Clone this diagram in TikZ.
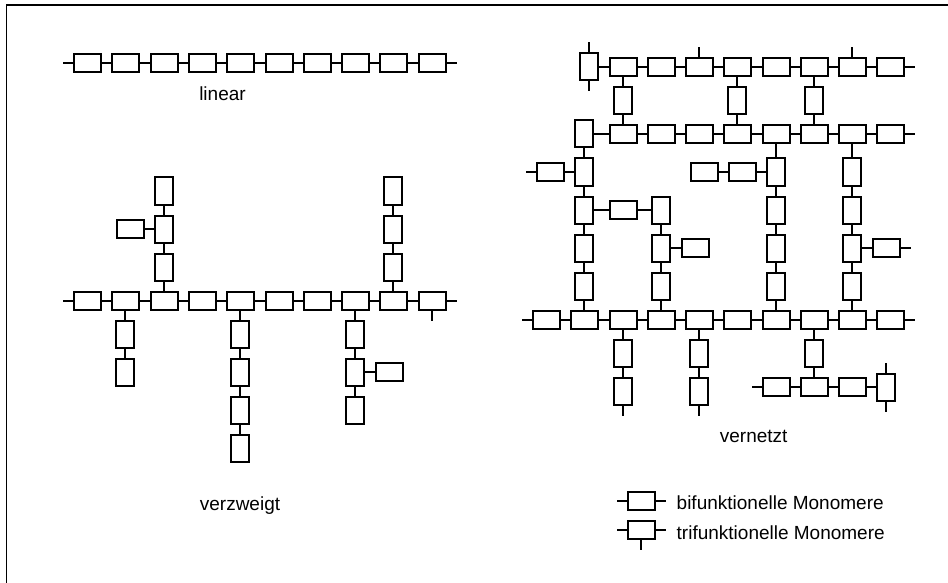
\documentclass[tikz,border=0pt]{standalone}
\usepackage{fontspec}
\setmainfont{Liberation Sans}
\tikzset{
    mono/.style={draw, line width=2pt, minimum width=27pt, minimum height=18pt, inner sep=0pt},
    monov/.style={mono, minimum width=18pt, minimum height=27pt},
    bond/.style={line width=2pt},
    lbl/.style={anchor=base, inner sep=0pt, font=\fontsize{19}{23}\selectfont}
}
\begin{document}
\begin{tikzpicture}[x=1pt, y=-1pt]
    \useasboundingbox (0, 0) rectangle (948, 583);
    \draw[line width=1.5pt] (6.5, 583) -- (6.5, 5) -- (948, 5);

    % linear
    \foreach \i in {0,...,9} \node[mono] (l\i) at ({round(87.2 + 38.27*\i)}, 63) {};
    \foreach \i [count=\j from 0] in {1,...,9} \draw[bond] (l\j) -- (l\i);
    \draw[bond] (l0.west) -- ++(-10, 0);
    \draw[bond] (l9.east) -- ++(10, 0);
    \node[lbl] (tlin) at (222.5, 100.7) {linear};

    % verzweigt
    \foreach \i in {0,...,9} \node[mono] (v\i) at ({round(87.2 + 38.27*\i)}, 301) {};
    \foreach \i [count=\j from 0] in {1,...,9} \draw[bond] (v\j) -- (v\i);
    \draw[bond] (v0.west) -- ++(-10, 0);
    \draw[bond] (v9.east) -- ++(10, 0);
    \draw[bond] (v9.south) -- ++(0, 10);
    \path (v1) ++(0, 33) node[monov] (d1a) {} ++(0, 38) node[monov] (d1b) {};
    \path (v2) ++(0, -34) node[monov] (u2a) {} ++(0, -38) node[monov] (u2b) {} ++(0, -38) node[monov] (u2c) {};
    \path (u2b) ++(-34, 0) node[mono] (s2) {};
    \path (v4) ++(0, 33) node[monov] (d4a) {} ++(0, 38) node[monov] (d4b) {} ++(0, 38) node[monov] (d4c) {} ++(0, 38) node[monov] (d4d) {};
    \path (v7) ++(0, 33) node[monov] (d7a) {} ++(0, 38) node[monov] (d7b) {} ++(0, 38) node[monov] (d7c) {};
    \path (d7b) ++(34, 0) node[mono] (s7) {};
    \path (v8) ++(0, -34) node[monov] (u8a) {} ++(0, -38) node[monov] (u8b) {} ++(0, -38) node[monov] (u8c) {};
    \draw[bond] (v1) -- (d1a) -- (d1b);
    \draw[bond] (v2) -- (u2a) -- (u2b) -- (u2c);
    \draw[bond] (u2b) -- (s2);
    \draw[bond] (v4) -- (d4a) -- (d4b) -- (d4c) -- (d4d);
    \draw[bond] (v7) -- (d7a) -- (d7b) -- (d7c);
    \draw[bond] (d7b) -- (s7);
    \draw[bond] (v8) -- (u8a) -- (u8b) -- (u8c);
    \node[lbl] (tver) at (240, 510) {verzweigt};

    % vernetzt
    \foreach \k in {2,...,9} \node[mono] (a\k) at ({round(546 + 38.27*\k)}, 67) {};
    \path (a2) ++(-34, 0) node[monov] (a1) {};
    \foreach \i [count=\j from 1] in {2,...,9} \draw[bond] (a\j) -- (a\i);
    \draw[bond] (a1.north) -- ++(0, -10);
    \draw[bond] (a1.south) -- ++(0, 10);
    \draw[bond] (a4.north) -- ++(0, -10);
    \draw[bond] (a8.north) -- ++(0, -10);
    \draw[bond] (a9.east) -- ++(10, 0);

    \foreach \k in {2,...,9} \node[mono] (b\k) at ({round(546 + 38.27*\k)}, 134) {};
    \node[monov] (b1) at (584, 134) {};
    \foreach \i [count=\j from 1] in {2,...,9} \draw[bond] (b\j) -- (b\i);
    \draw[bond] (b9.east) -- ++(10, 0);
    \foreach \k in {2,5,7} {
        \path (a\k) ++(0, 34) node[monov] (ab\k) {};
        \draw[bond] (a\k) -- (ab\k) -- (b\k);
    }

    \foreach \k in {1,6,8} \foreach \r in {1,...,4} \node[monov] (m\k-\r) at ({round(546 + 38.27*\k)}, 134 + 38*\r) {};
    \foreach \r in {2,3,4} \node[monov] (m3-\r) at (661, 134 + 38*\r) {};
    \node[mono] (h2) at (623, 210) {};
    \path (m1-1) ++(-34, 0) node[mono] (h1) {};
    \path (m3-3) ++(34, 0) node[mono] (h3) {};
    \path (m6-1) ++(-34, 0) node[mono] (h6a) {} ++(-38, 0) node[mono] (h6b) {};
    \path (m8-3) ++(34, 0) node[mono] (h8) {};

    \foreach \k in {0,...,9} \node[mono] (c\k) at ({round(546 + 38.27*\k)}, 320) {};
    \foreach \i [count=\j from 0] in {1,...,9} \draw[bond] (c\j) -- (c\i);
    \draw[bond] (c0.west) -- ++(-10, 0);
    \draw[bond] (c9.east) -- ++(10, 0);

    \draw[bond] (b1) -- (m1-1) -- (m1-2) -- (m1-3) -- (m1-4) -- (c1);
    \draw[bond] (b6) -- (m6-1) -- (m6-2) -- (m6-3) -- (m6-4) -- (c6);
    \draw[bond] (b8) -- (m8-1) -- (m8-2) -- (m8-3) -- (m8-4) -- (c8);
    \draw[bond] (m3-2) -- (m3-3) -- (m3-4) -- (c3);
    \draw[bond] (m1-2) -- (h2) -- (m3-2);
    \draw[bond] (m1-1) -- (h1);
    \draw[bond] (h1.west) -- ++(-10, 0);
    \draw[bond] (m3-3) -- (h3);
    \draw[bond] (m6-1) -- (h6a) -- (h6b);
    \draw[bond] (m8-3) -- (h8);
    \draw[bond] (h8.east) -- ++(10, 0);

    \foreach \k in {2,4} {
        \path (c\k) ++(0, 33) node[monov] (e\k a) {} ++(0, 38) node[monov] (e\k b) {};
        \draw[bond] (c\k) -- (e\k a) -- (e\k b);
        \draw[bond] (e\k b.south) -- ++(0, 10);
    }
    \path (c7) ++(0, 33) node[monov] (e7) {} ++(0, 34) node[mono] (n7) {};
    \path (n7) ++(-38, 0) node[mono] (n6) {};
    \path (n7) ++(38, 0) node[mono] (n8) {} ++(34, 0) node[monov] (n9) {};
    \draw[bond] (c7) -- (e7) -- (n7);
    \draw[bond] (n6) -- (n7) -- (n8) -- (n9);
    \draw[bond] (n6.west) -- ++(-10, 0);
    \draw[bond] (n9.north) -- ++(0, -10);
    \draw[bond] (n9.south) -- ++(0, 10);
    \node[lbl] (tnet) at (753.7, 442.3) {vernetzt};

    % Legende
    \node[mono] (kb) at (641, 501) {};
    \node[mono] (kt) at (641, 530) {};
    \draw[bond] (kb.west) -- ++(-10, 0);
    \draw[bond] (kb.east) -- ++(10, 0);
    \draw[bond] (kt.west) -- ++(-10, 0);
    \draw[bond] (kt.east) -- ++(10, 0);
    \draw[bond] (kt.south) -- ++(0, 10);
    \node[lbl, anchor=base west] (tkb) at (676.5, 509.5) {bifunktionelle Monomere};
    \node[lbl, anchor=base west] (tkt) at (676.5, 539) {trifunktionelle Monomere};
\end{tikzpicture}
\end{document}
